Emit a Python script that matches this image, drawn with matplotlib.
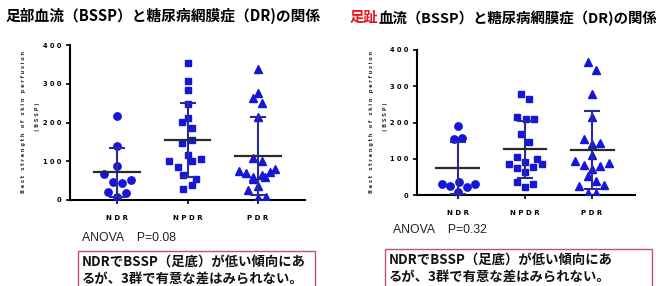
import matplotlib
matplotlib.use("Agg")
import matplotlib.pyplot as plt
from matplotlib.patches import Rectangle

plt.rcParams['font.family'] = ['Noto Sans CJK JP', 'DejaVu Sans']

GROUPS = ["N D R", "N P D R", "P D R"]
YTICKS = [0, 100, 200, 300, 400]

# 足部 (sole) BSSP
SOLE_NDR = [217, 139, 89, 66, 46, 45, 52, 21, 17, 9]
SOLE_NPDR = [353, 308, 284, 249, 211, 201, 187, 148, 155, 115, 101, 101, 105, 85, 65, 53, 39, 28]
SOLE_PDR = [337, 277, 264, 251, 213, 108, 101, 76, 69, 81, 73, 60, 65, 54, 37, 60, 26, 4, 9]
SOLE_MEAN = [71, 155, 114]
SOLE_SD = [64, 96, 100]

# 足趾 (toe) BSSP
TOE_NDR = [189, 154, 157, 30, 26, 37, 23, 30, 7]
TOE_NPDR = [278, 265, 214, 210, 210, 168, 145, 106, 92, 99, 86, 74, 64, 78, 86, 37, 23, 30]
TOE_PDR = [366, 345, 278, 216, 154, 143, 140, 109, 95, 83, 80, 89, 72, 53, 39, 26, 28, 6, 6]
TOE_MEAN = [74, 126, 124]
TOE_SD = [71, 78, 107]

# horizontal scatter offsets (column layout of the dots)
SOLE_JIT = [
    [0, 0, 0, -0.57, -0.18, 0.2, 0.6, -0.38, 0.38, 0],
    [0, 0, 0, 0, 0, -0.22, 0.18, -0.24, 0.18, 0, -0.8, 0.18, 0.57, -0.42, -0.2, 0.38, 0.18, -0.2],
    [0, 0, -0.2, 0.18, 0, -0.2, 0.18, -0.8, -0.5, 0.75, 0.5, -0.22, 0.18, -0.2, 0, 0.32, -0.42, 0, 0.35],
]
TOE_JIT = [
    [0, -0.18, 0.2, -0.73, -0.38, 0.03, 0.4, 0.77, 0],
    [-0.18, 0.18, -0.35, 0.03, 0.4, -0.18, 0.18, -0.35, 0, 0.55, -0.7, -0.35, 0, 0.38, 0.77, -0.35, 0, 0.38],
    [-0.2, 0.17, 0, 0, -0.38, 0.38, 0, 0, -0.75, -0.38, 0.38, 0.78, 0, -0.2, 0.18, -0.6, 0.55, -0.2, 0.17],
]

PT_COLOR = "#1616d8"
ERR_COLOR = "#2a2a9c"
MEAN_COLOR = "#2a2a2a"


def draw_panel(ax, groups_data, jit, means, sds, xlim):
    markers = ["o", "s", "^"]
    sizes = [5.3, 4.9, 5.5]
    for i, vals in enumerate(groups_data):
        xs = [i + j * 0.33 for j in jit[i]]
        ax.plot(xs, vals, linestyle="none", marker=markers[i], ms=sizes[i],
                color=PT_COLOR, mec=PT_COLOR, zorder=3)
        ax.errorbar([i], [means[i]], yerr=[sds[i]], fmt="none", ecolor=ERR_COLOR,
                    elinewidth=1.5, capsize=6, capthick=1.5, zorder=4)
        ax.plot([i - 0.32, i + 0.32], [means[i], means[i]], color=MEAN_COLOR, lw=1.6, zorder=5)
    ax.set_xlim(*xlim)
    ax.set_ylim(0, 400)
    ax.set_yticks(YTICKS)
    ax.set_yticklabels([" ".join(str(t)) for t in YTICKS], fontsize=4.8,
                       fontweight="bold", family="DejaVu Sans")
    ax.set_xticks(range(3))
    ax.set_xticklabels(GROUPS, fontsize=5, fontweight="bold", family="DejaVu Sans")
    for s in ["top", "right"]:
        ax.spines[s].set_visible(False)
    for s in ["left", "bottom"]:
        ax.spines[s].set_linewidth(1.5)
    ax.tick_params(axis="both", width=1.2, length=3, pad=3)
    ax.tick_params(axis="x", pad=8)
    ax.patch.set_alpha(0)


fig = plt.figure(figsize=(6.56, 2.86), dpi=100)
W, H = 656, 286


def frac(x0, y_top, x1, y_bot):
    return [x0 / W, 1 - y_bot / H, (x1 - x0) / W, (y_bot - y_top) / H]


ax1 = fig.add_axes(frac(70, 45, 305, 200))
draw_panel(ax1, [SOLE_NDR, SOLE_NPDR, SOLE_PDR], SOLE_JIT, SOLE_MEAN, SOLE_SD, (-0.667, 2.667))

ax2 = fig.add_axes(frac(417, 50, 635, 195))
draw_panel(ax2, [TOE_NDR, TOE_NPDR, TOE_PDR], TOE_JIT, TOE_MEAN, TOE_SD, (-0.61, 2.64))

ylab1 = " ".join("Best strength of skin perfusion")
ylab2 = " ".join("(BSSP)")
for x1, x2, yc in [(24, 37, 122), (372, 385, 122)]:
    fig.text(x1 / W, 1 - yc / H, ylab1, rotation=90, ha="center", va="center",
             fontsize=3.7, fontweight="bold", family="DejaVu Sans", color="#333333")
    fig.text(x2 / W, 1 - (yc - 5) / H, ylab2, rotation=90, ha="center", va="center",
             fontsize=3.7, fontweight="bold", family="DejaVu Sans", color="#333333")

# titles
fig.text(5 / W, 1 - 16 / H, "足部血流（BSSP）と糖尿病網膜症（DR)の関係",
         fontsize=10.6, fontweight="bold", va="center", ha="left")
t_red = fig.text(350 / W, 1 - 18 / H, "足趾", color="#e8141e",
                 fontsize=10.4, fontweight="bold", va="center", ha="left")
plt.annotate("血流（BSSP）と糖尿病網膜症（DR)の関係", xy=(1, 0.5), xycoords=t_red,
             va="center", ha="left", fontsize=10.4, fontweight="bold")

# ANOVA results
fig.text(82 / W, 1 - 238 / H, "ANOVA    P=0.08", fontsize=8.8, va="center",
         family=["Liberation Sans", "DejaVu Sans"], color="#222222")
fig.text(393 / W, 1 - 230 / H, "ANOVA    P=0.32", fontsize=8.8, va="center",
         family=["Liberation Sans", "DejaVu Sans"], color="#222222")

# comment boxes
note = "NDRでBSSP（足底）が低い傾向にあ\nるが、3群で有意な差はみられない。"
for x0, x1, ytop in [(78, 315, 251), (385, 652, 249)]:
    fig.patches.append(Rectangle((x0 / W, -0.05), (x1 - x0) / W, (1 - ytop / H) + 0.05,
                                 transform=fig.transFigure, fill=False,
                                 edgecolor="#c0556a", lw=1.0))
    fig.text((x0 + 4) / W, 1 - (ytop + 4) / H, note, fontsize=9.6, fontweight="bold",
             va="top", ha="left", linespacing=1.2, color="#111111")

fig.savefig("out.png", dpi=100)
